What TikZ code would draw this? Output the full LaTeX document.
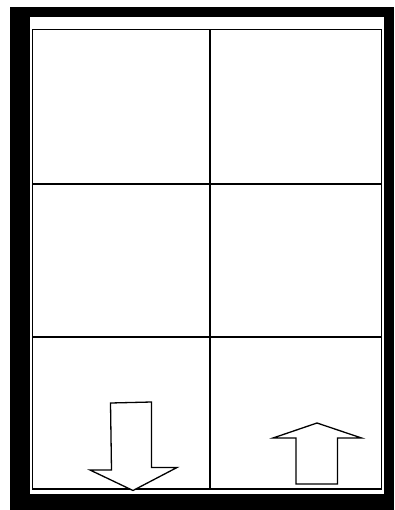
\documentclass[tikz,border=0pt]{standalone}
\usepackage{tikz}
\usetikzlibrary{positioning, calc}

\begin{document}
\begin{tikzpicture}[
        x=1pt, y=-1pt,
        cell/.style={draw=black, line width=1.4pt},
        blk/.style={draw=black, line width=1.3pt, fill=white, line join=miter}
    ]
    \useasboundingbox (0,0) rectangle (394,510);
    % frame
    \fill[black] (10,7) rectangle (394,510);
    \fill[white] (30,17) rectangle (384,494);

    % grid of six cells
    \draw[cell] (32.5,29.5) rectangle (381.5,489);
    \draw[cell] (210,29.5) -- (210,489);
    \draw[cell] (32.5,184) -- (381.5,184);
    \draw[cell] (32.5,337) -- (381.5,337);

    % down arrow
    \draw[blk] (110.5,403) -- (151.5,402) -- (151.5,467.5) -- (177,467.5)
        -- (133,490.5) -- (90,470) -- (111.5,470) -- cycle;
    % up arrow
    \draw[blk] (296,484) -- (337.5,484) -- (337.5,438) -- (361.5,438)
        -- (317,423) -- (273,438) -- (296,438) -- cycle;
\end{tikzpicture}
\end{document}
